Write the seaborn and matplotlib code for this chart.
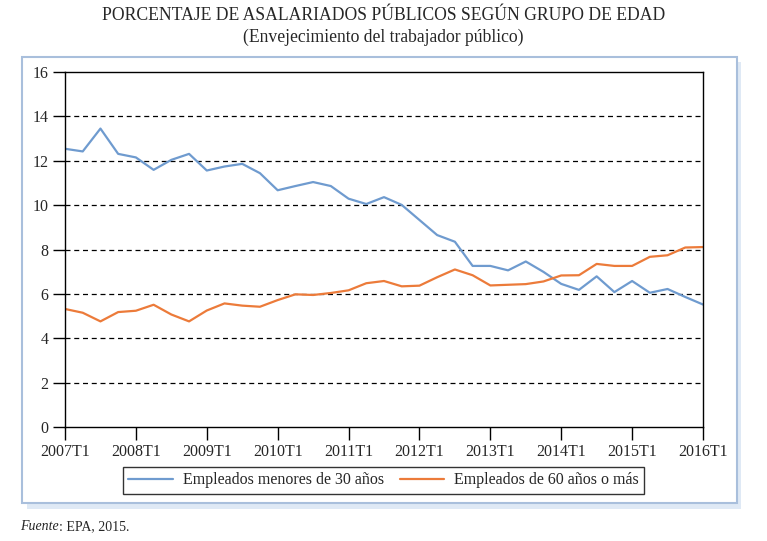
import numpy as np
import pandas as pd
from matplotlib import pyplot as plt
from matplotlib.patches import Rectangle
import seaborn as sns

# Porcentaje trimestral, 2007T1 .. 2016T1
quarters = ['%dT%d' % (y, q) for y in range(2007, 2017) for q in range(1, 5)][:37]
menores_30 = [12.54, 12.42, 13.45, 12.31, 12.15, 11.59, 12.04, 12.31, 11.56, 11.74,
              11.86, 11.44, 10.67, 10.86, 11.04, 10.86, 10.29, 10.05, 10.36, 10.01,
              9.33, 8.65, 8.35, 7.26, 7.26, 7.06, 7.46, 6.99, 6.45, 6.18,
              6.79, 6.08, 6.58, 6.05, 6.22, 5.86, 5.52]
mayores_60 = [5.32, 5.15, 4.76, 5.18, 5.24, 5.51, 5.07, 4.76, 5.25, 5.57,
              5.47, 5.42, 5.72, 5.98, 5.95, 6.04, 6.16, 6.48, 6.58, 6.34,
              6.37, 6.75, 7.10, 6.84, 6.38, 6.41, 6.44, 6.56, 6.83, 6.84,
              7.35, 7.26, 7.26, 7.67, 7.74, 8.09, 8.11]
series_names = ['Empleados menores de 30 años', 'Empleados de 60 años o más']
tick_labels = ['2007T1', '2008T1', '2009T1', '2010T1', '2011T1',
               '2012T1', '2013T1', '2014T1', '2015T1', '2016T1']
y_ticks = [0, 2, 4, 6, 8, 10, 12, 14, 16]

df = pd.DataFrame({
    'idx': list(range(len(quarters))) * 2,
    'valor': menores_30 + mayores_60,
    'serie': [series_names[0]] * len(quarters) + [series_names[1]] * len(quarters),
})

sns.set_style('ticks')
plt.rcParams['font.family'] = ['Liberation Serif', 'DejaVu Serif']

fig = plt.figure(figsize=(7.67, 5.41), dpi=100)

# light blue panel with shadow
W, H = 767.0, 541.0
fig.patches.append(Rectangle((27 / W, 1 - 509 / H), (741 - 27) / W, (509 - 62) / H,
                             transform=fig.transFigure, facecolor='#dfe9f5',
                             edgecolor='none', zorder=0))
fig.patches.append(Rectangle((22 / W, 1 - 503 / H), (737 - 22) / W, (503 - 57) / H,
                             transform=fig.transFigure, facecolor='white',
                             edgecolor='#a9bfdc', linewidth=1.5, zorder=0.5))

ax = fig.add_axes([65 / W, 1 - 427 / H, (703 - 65) / W, (427 - 72) / H])
ax.set_zorder(2)
ax.set_facecolor('none')

sns.lineplot(data=df, x='idx', y='valor', hue='serie', palette=['#6f9bcf', '#ec7b3a'],
             linewidth=1.6, ax=ax, legend=True)

ax.set_xlim(0, 36)
ax.set_ylim(0, 16)
ax.set_xticks(range(0, 37, 4))
ax.set_xticklabels(tick_labels)
ax.set_yticks(y_ticks)
ax.set_xlabel('')
ax.set_ylabel('')
for s in ax.spines.values():
    s.set_visible(True)
    s.set_color('black')
    s.set_linewidth(1.0)
ax.tick_params(axis='both', length=9, width=1.0, color='black', labelsize=11.5, pad=3)
for yv in y_ticks[1:-1]:
    ax.axhline(yv, color='black', linestyle=(0, (4, 3)), linewidth=0.9, zorder=0)

handles, labels = ax.get_legend_handles_labels()
ax.get_legend().remove()
leg = fig.legend(handles, labels, loc='center', bbox_to_anchor=(0.5, 1 - 480.5 / H), ncol=2,
                 frameon=True, fancybox=False, fontsize=11.5, handlelength=2.8,
                 columnspacing=1.0, borderpad=0.35, handletextpad=0.6)
leg.set_zorder(3)
leg.get_frame().set_edgecolor('black')
leg.get_frame().set_linewidth(1.0)
for ln in leg.get_lines():
    ln.set_linewidth(1.6)

fig.text(0.5, 1 - 15 / H, 'PORCENTAJE DE ASALARIADOS PÚBLICOS SEGÚN GRUPO DE EDAD',
         ha='center', va='center', fontsize=12.7)
fig.text(0.5, 1 - 37 / H, '(Envejecimiento del trabajador público)',
         ha='center', va='center', fontsize=12.7)

# "Fuente" in italics, rest upright
t1 = fig.text(20 / W, 1 - 527 / H, 'Fuente', ha='left', va='center', fontsize=10, style='italic')
fig.canvas.draw()
bb = t1.get_window_extent()
fig.text(bb.x1 / fig.bbox.width, 1 - 527 / H, ': EPA, 2015.', ha='left', va='center', fontsize=10)

fig.savefig('out.png', dpi=100)
